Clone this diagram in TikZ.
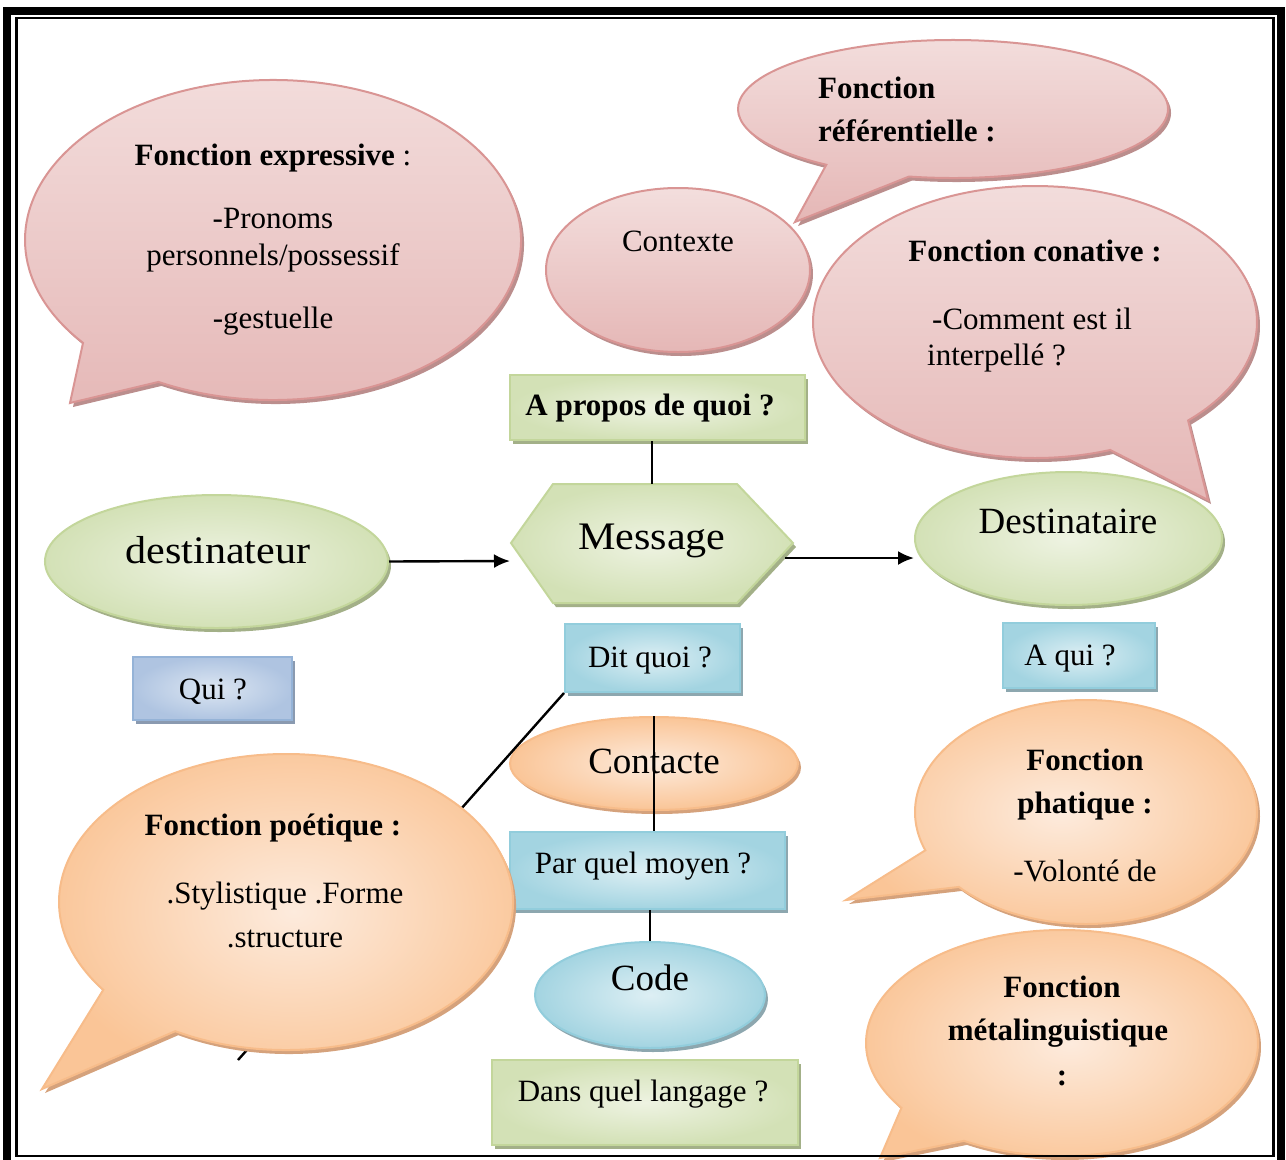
\documentclass[tikz,border=0pt]{standalone}
\usepackage{graphicx}
\usepackage{fontspec}
\setmainfont{Liberation Serif}
\usetikzlibrary{shapes.geometric,shadows,arrows.meta,calc}

\definecolor{pinkL}{HTML}{F3DEDD}
\definecolor{pinkD}{HTML}{E5B7B6}
\definecolor{pinkB}{HTML}{D99594}
\definecolor{pinkS}{HTML}{BB8E8D}
\definecolor{greenL}{HTML}{EEF3E2}
\definecolor{greenD}{HTML}{D3E1B6}
\definecolor{greenB}{HTML}{C3D69B}
\definecolor{greenS}{HTML}{A3B088}
\definecolor{orangeL}{HTML}{FDEBDD}
\definecolor{orangeD}{HTML}{FAC597}
\definecolor{orangeB}{HTML}{F7BC8A}
\definecolor{orangeS}{HTML}{D5A27C}
\definecolor{blueL}{HTML}{DDEFF4}
\definecolor{blueD}{HTML}{A3D4E1}
\definecolor{blueB}{HTML}{92CDDC}
\definecolor{blueS}{HTML}{8DA7AF}
\definecolor{lavL}{HTML}{DCE6F2}
\definecolor{lavD}{HTML}{AFC4E1}
\definecolor{lavB}{HTML}{95B3D7}
\definecolor{lavS}{HTML}{8A9AB0}

\newcommand\fnorm{\fontsize{31}{37}\selectfont}
\newcommand\fbig{\fontsize{37}{44}\selectfont}

% speech bubble: style, centre x, centre y, x radius, y radius,
% start angle, end angle, tip x, tip y
\newcommand\speechshape[9]{%
  \path[#1] ($(#2,#3)+(#6:#4 and #5)$)
    arc[start angle=#6, end angle=#7, x radius=#4, y radius=#5]
    -- (#8,#9) -- cycle;}

\tikzset{
  shd/.style={drop shadow={shadow xshift=3pt, shadow yshift=-4pt, fill=#1, opacity=1}},
  pinkshape/.style={draw=pinkB, line width=2pt, top color=pinkL, bottom color=pinkD, shd=pinkS},
  greenshape/.style={draw=greenB, line width=2pt, inner color=greenL, outer color=greenD, shd=greenS},
  orangeshape/.style={draw=orangeB, line width=2pt, inner color=orangeL, outer color=orangeD, shd=orangeS},
  blueshape/.style={draw=blueB, line width=2pt, inner color=blueL, outer color=blueD, shd=blueS},
  lavshape/.style={draw=lavB, line width=2pt, inner color=lavL, outer color=lavD, shd=lavS},
  oval/.style={ellipse, inner sep=0pt},
  box/.style={rectangle, inner sep=0pt},
  lbl/.style={anchor=base, inner sep=0pt, font=\fnorm},
  lblw/.style={anchor=base west, inner sep=0pt, font=\fnorm},
  bold/.style={font=\fnorm\bfseries},
  link/.style={draw=black, line width=2.4pt},
  flow/.style={link, -{Latex[length=16pt,width=14pt]}}
}

\begin{document}
\begin{tikzpicture}[x=1pt,y=1pt]
\useasboundingbox (0,0) rectangle (1286,-1160);

% upper bubbles
\speechshape{pinkshape}{273}{-240}{248}{160}{242.5}{580}{70}{-403}
\speechshape{pinkshape}{953}{-109}{215}{69}{258.2}{593.9}{795}{-222}
\node[pinkshape, oval, minimum width=264pt, minimum height=164pt] (ctx) at (678,-270) {};

% main line: sender, message, receiver
\node[greenshape, oval, minimum width=343pt, minimum height=133pt] (emit) at (216.5,-561.5) {};
\node[greenshape, oval, minimum width=307pt, minimum height=133pt] (recv) at (1068.5,-538.5) {};
\path[greenshape] (511,-543) -- (553,-484) -- (737,-484) -- (793,-543)
  -- (737,-603) -- (553,-603) -- cycle;
\node[lbl, font=\fontsize{39}{46}\selectfont] (msgT) at (652,-549) {\scalebox{1.08}[1]{Message}};
\coordinate (msgtop) at (652,-484);
\coordinate (msgin) at (510,-561);
\coordinate (msgout) at (785,-558);
\node[greenshape, box, minimum width=295pt, minimum height=65pt] (about) at (657.5,-407.5) {};

\speechshape{pinkshape}{1035}{-322}{222}{136}{313.6}{649.8}{1208}{-500}

% questions and channel
\node[lavshape, box, minimum width=159pt, minimum height=63pt] (who) at (212.5,-688.5) {};
\node[blueshape, box, minimum width=175pt, minimum height=68pt] (what) at (652.5,-658) {};
\node[blueshape, box, minimum width=152pt, minimum height=65pt] (whom) at (1079,-655.5) {};
\node[orangeshape, oval, minimum width=288pt, minimum height=93pt] (contact) at (654,-763.5) {};
\node[blueshape, box, minimum width=275pt, minimum height=77pt] (means) at (647.5,-870.5) {};
\node[blueshape, oval, minimum width=230pt, minimum height=106pt] (code) at (650,-995) {};
\node[greenshape, box, minimum width=306pt, minimum height=85pt] (lang) at (645,-1102.5) {};

\coordinate (tail) at (238,-1060);
\draw[link] (what.south west) -- (tail);

% lower bubbles
\speechshape{orangeshape}{286}{-902}{227}{148}{240.8}{576.4}{42}{-1089}
\speechshape{orangeshape}{1086}{-812}{171}{112}{222}{560}{846}{-900}
\speechshape{orangeshape}{1062}{-1043}{196}{113}{240}{575}{880}{-1158}

% connectors
\draw[link] (msgtop |- about.south) -- (msgtop);
\draw[flow] (emit.east) -- (msgin);
\draw[flow] (msgout) -- (recv.west |- msgout);
\draw[link] (contact.north) -- (contact.north |- means.north);
\draw[link] (code.north |- means.south) -- (code.north);

% texts
\node[lbl] (exT1) at (273,-165) {\textbf{Fonction expressive} :};
\node[lbl] (exT2) at (273,-228) {-Pronoms};
\node[lbl] (exT3) at (273,-265) {personnels/possessif};
\node[lbl] (exT4) at (273,-328) {-gestuelle};
\node[lblw, bold] (refT1) at (818,-98) {Fonction};
\node[lblw, bold] (refT2) at (818,-141) {référentielle :};
\node[lbl] (ctxT) at (678,-251) {Contexte};
\node[lbl, bold] (conT1) at (1035,-261) {Fonction conative :};
\node[lblw] (conT2) at (932,-329) {-Comment est il};
\node[lblw] (conT3) at (927,-365) {interpellé ?};
\node[lbl, bold] (aboutT) at (650,-415) {A propos de quoi ?};
\node[lbl, font=\fontsize{39}{46}\selectfont] (emitT) at (218,-563) {\scalebox{1.08}[1]{destinateur}};
\node[lbl, font=\fbig] (recvT) at (1068,-533) {Destinataire};
\node[lbl] (whoT) at (213,-699) {Qui ?};
\node[lbl] (whatT) at (650,-667) {Dit quoi ?};
\node[lbl] (whomT) at (1070,-665) {A qui ?};
\node[lbl, font=\fbig] (contactT) at (654,-773) {Contacte};
\node[lbl] (meansT) at (643,-873) {Par quel moyen ?};
\node[lbl, font=\fbig] (codeT) at (650,-990) {Code};
\node[lbl] (langT) at (643,-1101) {Dans quel langage ?};
\node[lbl, bold] (poT1) at (273,-835) {Fonction poétique :};
\node[lbl] (poT2) at (285,-903) {.Stylistique .Forme};
\node[lbl] (poT3) at (285,-947) {.structure};
\node[lbl, bold] (phT1) at (1085,-770) {Fonction};
\node[lbl, bold] (phT2) at (1085,-813) {phatique :};
\node[lbl] (phT3) at (1085,-881) {-Volonté de};
\node[lbl, bold] (meT1) at (1062,-997) {Fonction};
\node[lbl, bold] (meT2) at (1058,-1040) {métalinguistique};
\node[lbl, bold] (meT3) at (1062,-1085) {:};

% page frame
\draw[line width=8pt] (7,-1175) -- (7,-11) -- (1281,-11) -- (1281,-1175);
\draw[line width=2.5pt] (16.5,-18) rectangle (1273.5,-1156);
\end{tikzpicture}
\end{document}
